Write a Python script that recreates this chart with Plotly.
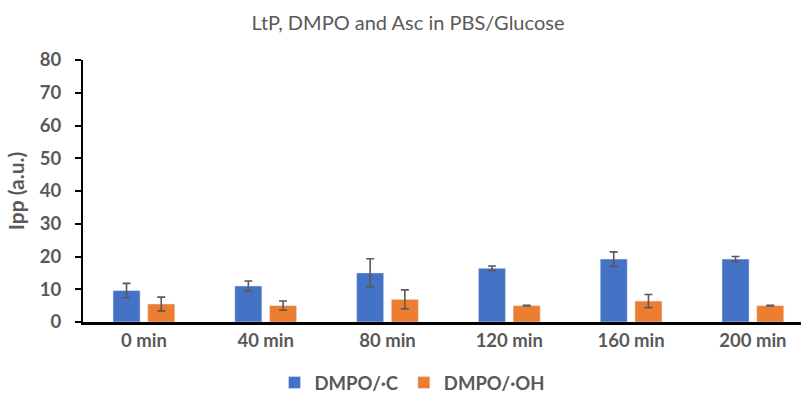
import plotly.graph_objects as go

categories = ["0 min", "40 min", "80 min", "120 min", "160 min", "200 min"]
c_values = [9.6, 11.0, 15.0, 16.4, 19.2, 19.2]
c_errors = [2.2, 1.5, 4.3, 0.7, 2.2, 0.8]
oh_values = [5.5, 5.0, 6.9, 5.0, 6.4, 5.0]
oh_errors = [2.1, 1.4, 2.9, 0.1, 2.0, 0.1]

FONT = "Lato"
GRAY = "#595959"

fig = go.Figure()
fig.add_trace(go.Bar(
    x=categories, y=c_values, name="DMPO/·C",
    marker=dict(color="#4472C4"),
    error_y=dict(type="data", array=c_errors, visible=True, color=GRAY, thickness=1.6, width=4),
))
fig.add_trace(go.Bar(
    x=categories, y=oh_values, name="DMPO/·OH",
    marker=dict(color="#ED7D31"),
    error_y=dict(type="data", array=oh_errors, visible=True, color=GRAY, thickness=1.6, width=4),
))

fig.update_layout(
    width=801, height=399,
    margin=dict(l=83, r=0, t=60, b=77),
    paper_bgcolor="white", plot_bgcolor="white",
    barmode="group", bargap=0.43, bargroupgap=0.22,
    title=dict(text="LtP, DMPO and Asc in PBS/Glucose", x=408 / 801, xref="container", xanchor="center",
               y=1 - 23 / 399, yref="container", yanchor="middle",
               font=dict(family=FONT, size=20, color=GRAY)),
    showlegend=True,
    legend=dict(orientation="h", xref="container", yref="container", x=412 / 801, xanchor="center",
                y=1 - 383 / 399, yanchor="middle",
                font=dict(family=FONT, size=18.5, color=GRAY, weight="bold"),
                itemwidth=30, traceorder="normal"),
    xaxis=dict(type="category", range=[-0.5, 5.395], showline=True, linecolor="black", linewidth=3,
               ticks="", showgrid=False,
               tickfont=dict(family=FONT, size=18.5, color=GRAY, weight="bold")),
    yaxis=dict(range=[0, 80], dtick=10, showline=True, linecolor="black", linewidth=2,
               ticks="outside", ticklen=6, tickwidth=2, tickcolor="black", showgrid=False, zeroline=False,
               ticklabelstandoff=10,
               tickfont=dict(family=FONT, size=18.5, color=GRAY, weight="bold"),
               title=dict(text="Ipp (a.u.)", standoff=9,
                          font=dict(family=FONT, size=21, color=GRAY, weight="bold"))),
)

fig.write_html("out.html")
